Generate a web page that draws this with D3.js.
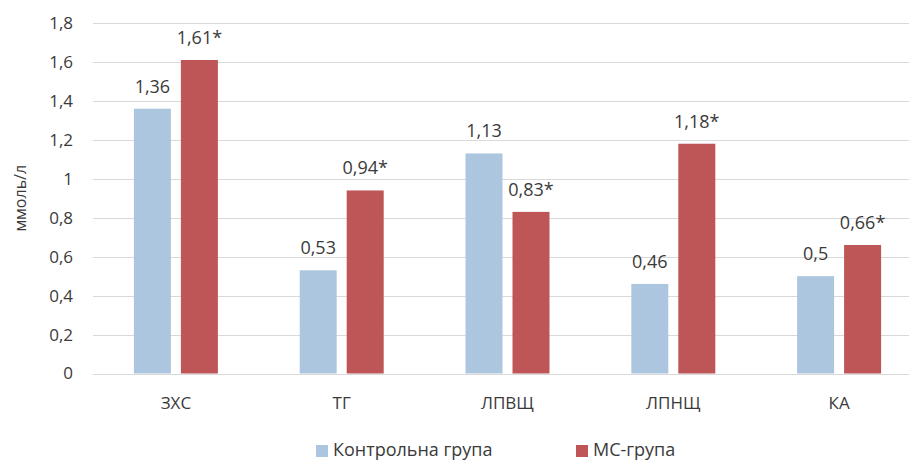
<!DOCTYPE html>
<html>
<head>
<meta charset="utf-8">
<script src="https://cdn.jsdelivr.net/npm/d3@7"></script>
<style>
  body { margin: 0; background: #fff; }
  text { font-family: "Open Sans", "Noto Sans", sans-serif; fill: #3a3a3a; }
</style>
</head>
<body>
<div id="chart"></div>
<script>
// data
const categories = ["ЗХС", "ТГ", "ЛПВЩ", "ЛПНЩ", "КА"];
const seriesNames = ["Контрольна група", "МС-група"];
const control = [1.36, 0.53, 1.13, 0.46, 0.5];
const ms = [1.61, 0.94, 0.83, 1.18, 0.66];
const controlLabels = ["1,36", "0,53", "1,13", "0,46", "0,5"];
const msLabels = ["1,61*", "0,94*", "0,83*", "1,18*", "0,66*"];
const yTicks = [0, 0.2, 0.4, 0.6, 0.8, 1, 1.2, 1.4, 1.6, 1.8];

const colors = ["#adc6e0", "#be5657"];

const width = 909, height = 460;
const margin = {top: 23, left: 93, bottom: 86};
const plotRight = 922;

const svg = d3.select("#chart").append("svg")
    .attr("width", width)
    .attr("height", height);

const x = d3.scaleBand()
    .domain(categories)
    .range([margin.left, plotRight])
    .paddingInner(0)
    .paddingOuter(0);

const y = d3.scaleLinear()
    .domain([0, 1.8])
    .range([height - margin.bottom - 0.5, margin.top]);

// gridlines
svg.append("g")
    .selectAll("line")
    .data(yTicks)
    .enter().append("line")
    .attr("x1", margin.left)
    .attr("x2", plotRight)
    .attr("y1", d => Math.round(y(d)) + 0.5)
    .attr("y2", d => Math.round(y(d)) + 0.5)
    .attr("stroke", "#d9d9d9")
    .attr("stroke-width", 1);

// y tick labels
svg.append("g")
    .selectAll("text")
    .data(yTicks)
    .enter().append("text")
    .attr("x", 73)
    .attr("y", d => y(d))
    .attr("dy", "0.35em")
    .attr("text-anchor", "end")
    .style("font-size", "17px")
    .text(d => String(d).replace(".", ","));

// y axis title
svg.append("text")
    .attr("transform", "translate(26," + y(0.9) + ") rotate(-90)")
    .attr("text-anchor", "middle")
    .style("font-size", "16px")
    .text("ммоль/л");

const barW = 37, gap = 10;
const series = [control, ms];
const labels = [controlLabels, msLabels];

series.forEach((vals, s) => {
    const offset = s === 0 ? -(barW + gap / 2) : gap / 2;
    const g = svg.append("g");
    g.selectAll("rect")
        .data(vals)
        .enter().append("rect")
        .attr("x", (d, i) => x(categories[i]) + x.bandwidth() / 2 + offset)
        .attr("y", d => y(d))
        .attr("width", barW)
        .attr("height", d => y(0) - y(d))
        .attr("fill", colors[s]);
    g.selectAll("text")
        .data(vals)
        .enter().append("text")
        .attr("x", (d, i) => x(categories[i]) + x.bandwidth() / 2 + offset + barW / 2)
        .attr("y", d => y(d) - 16)
        .attr("text-anchor", "middle")
        .style("font-size", "18px")
        .text((d, i) => labels[s][i]);
});

// category labels
svg.append("g")
    .selectAll("text")
    .data(categories)
    .enter().append("text")
    .attr("x", d => x(d) + x.bandwidth() / 2)
    .attr("y", 409)
    .attr("text-anchor", "middle")
    .style("font-size", "17px")
    .text(d => d);

// legend
const legendX = [316, 576];
const legend = svg.append("g");
seriesNames.forEach((name, i) => {
    legend.append("rect")
        .attr("x", legendX[i])
        .attr("y", 445)
        .attr("width", 12)
        .attr("height", 12)
        .attr("fill", colors[i]);
    legend.append("text")
        .attr("x", legendX[i] + 17)
        .attr("y", 456)
        .style("font-size", "18px")
        .text(name);
});
</script>
</body>
</html>
